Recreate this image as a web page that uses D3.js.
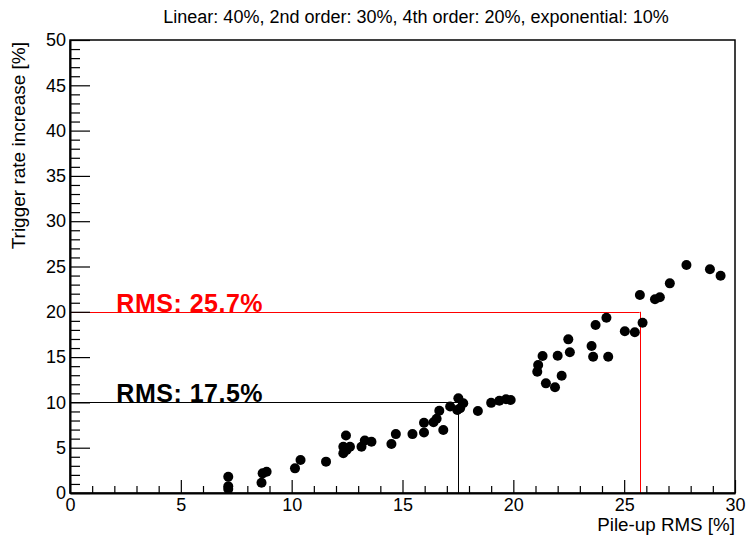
<!DOCTYPE html>
<html>
<head>
<meta charset="utf-8">
<script src="https://cdn.jsdelivr.net/npm/d3@7"></script>
<style>
  html, body { margin: 0; padding: 0; background: #fff; }
  svg { display: block; font-family: "Liberation Sans", Arial, Helvetica, sans-serif; }
</style>
</head>
<body>
<svg id="chart" width="747" height="539"></svg>
<script>
// Pile-up RMS [%] of each configuration
const pileupRms = [
  7.14, 7.14, 7.14, 8.64, 8.69, 8.87, 10.15, 10.40, 11.55,
  12.33, 12.48, 12.33, 12.63, 12.45, 13.15, 13.30, 13.60, 14.50, 14.70,
  15.45, 15.97, 15.97, 16.40, 16.54, 16.66, 16.84, 17.15, 17.52, 17.47,
  17.74, 17.60, 18.40, 19.00, 19.37, 19.67, 19.88,
  21.08, 21.12, 21.32, 21.47, 21.88, 22.00, 22.18, 22.48, 22.55,
  23.53, 23.60, 23.71, 24.20, 24.28, 25.03, 25.48, 25.83, 25.71,
  26.39, 26.61, 27.06, 27.81, 28.87, 29.35
];
// Trigger rate increase [%] for the same configurations
const rateIncrease = [
  1.80, 0.75, 0.45, 1.14, 2.17, 2.35, 2.72, 3.64, 3.46,
  4.38, 4.75, 5.10, 5.10, 6.35, 5.10, 5.80, 5.66, 5.40, 6.50,
  6.50, 6.68, 7.76, 7.80, 8.20, 9.08, 6.95, 9.55, 10.45, 9.16,
  9.90, 9.35, 9.05, 9.95, 10.19, 10.34, 10.26,
  13.39, 14.13, 15.12, 12.10, 11.67, 15.15, 12.95, 16.96, 15.53,
  16.22, 15.04, 18.54, 19.35, 15.04, 17.85, 17.75, 18.80, 21.85,
  21.38, 21.60, 23.14, 25.17, 24.69, 23.98
];

// Rate-increase thresholds and the pile-up RMS at which they are reached
const thresholdRates = [10, 20];
const thresholdRms = [17.5, 25.7];
const thresholdLabels = ["RMS: 17.5%", "RMS: 25.7%"];

const xDomain = [0, 30];
const yDomain = [0, 50];
const xTickValues = [0, 5, 10, 15, 20, 25, 30];
const yTickValues = [0, 5, 10, 15, 20, 25, 30, 35, 40, 45, 50];

const titleText = "Linear: 40%, 2nd order: 30%, 4th order: 20%, exponential: 10%";
const xTitle = "Pile-up RMS [%]";
const yTitle = "Trigger rate increase [%]";

const svg = d3.select("#chart");
const plotLeft = 70, plotRight = 735, plotTop = 40, plotBottom = 493;

const x = d3.scaleLinear().domain(xDomain).range([plotLeft, plotRight]);
const y = d3.scaleLinear().domain(yDomain).range([plotBottom, plotTop]);

// Threshold guide lines
const lineColors = ["#000000", "#ff0000"];
const textColors = ["#000000", "#ff0000"];
thresholdRates.forEach((r, i) => {
  const g = svg.append("g");
  g.append("line")
    .attr("x1", x(0)).attr("x2", x(thresholdRms[i]))
    .attr("y1", Math.round(y(r)) + 0.5).attr("y2", Math.round(y(r)) + 0.5)
    .attr("stroke", lineColors[i]).attr("stroke-width", 1);
  g.append("line")
    .attr("x1", Math.round(x(thresholdRms[i])) + 0.5).attr("x2", Math.round(x(thresholdRms[i])) + 0.5)
    .attr("y1", y(r)).attr("y2", y(0))
    .attr("stroke", lineColors[i]).attr("stroke-width", 1);
  g.append("text")
    .attr("x", x(2) + 2)
    .attr("y", y(r))
    .attr("font-size", 25)
    .attr("font-weight", "bold")
    .attr("letter-spacing", 0.5)
    .attr("fill", textColors[i])
    .text(thresholdLabels[i]);
});

// Data points
svg.append("g")
  .selectAll("circle")
  .data(d3.range(pileupRms.length))
  .join("circle")
  .attr("cx", i => x(pileupRms[i]))
  .attr("cy", i => y(rateIncrease[i]))
  .attr("r", 5)
  .attr("fill", "#000");

// Frame
svg.append("rect")
  .attr("x", plotLeft).attr("y", plotTop)
  .attr("width", plotRight - plotLeft).attr("height", plotBottom - plotTop)
  .attr("fill", "none").attr("stroke", "#000").attr("stroke-width", 1.5);

// X axis: major ticks with labels, minor ticks every unit, drawn inward
const xAxis = d3.axisBottom(x)
  .tickValues(xTickValues)
  .tickFormat(d3.format("d"))
  .tickSizeInner(-13).tickSizeOuter(0).tickPadding(5);
const gx = svg.append("g").attr("transform", `translate(0,${plotBottom})`).call(xAxis);
gx.select(".domain").attr("stroke-width", 2);
gx.selectAll(".tick line").attr("stroke-width", 1.2);
gx.selectAll(".tick text").attr("font-size", 18).attr("font-family", null).attr("fill", "#000");
const xMinor = d3.axisBottom(x).tickValues(d3.range(0, 31, 1).filter(v => v % 5 !== 0))
  .tickSizeInner(-7).tickSizeOuter(0).tickFormat("");
const gxm = svg.append("g").attr("transform", `translate(0,${plotBottom})`).call(xMinor);
gxm.select(".domain").remove();
gxm.selectAll(".tick line").attr("stroke-width", 1.2);

// Y axis
const yAxis = d3.axisLeft(y)
  .tickValues(yTickValues)
  .tickFormat(d3.format("d"))
  .tickSizeInner(-20).tickSizeOuter(0).tickPadding(4);
const gy = svg.append("g").attr("transform", `translate(${plotLeft},0)`).call(yAxis);
gy.select(".domain").attr("stroke-width", 2);
gy.selectAll(".tick line").attr("stroke-width", 1.2);
gy.selectAll(".tick text").attr("font-size", 18).attr("font-family", null).attr("fill", "#000");
const yMinor = d3.axisLeft(y).tickValues(d3.range(0, 51, 1).filter(v => v % 5 !== 0))
  .tickSizeInner(-10).tickSizeOuter(0).tickFormat("");
const gym = svg.append("g").attr("transform", `translate(${plotLeft},0)`).call(yMinor);
gym.select(".domain").remove();
gym.selectAll(".tick line").attr("stroke-width", 1.2);

// Titles
svg.append("text")
  .attr("x", 416).attr("y", 23)
  .attr("text-anchor", "middle")
  .attr("font-size", 18)
  .text(titleText);

svg.append("text")
  .attr("x", plotRight).attr("y", 531)
  .attr("text-anchor", "end")
  .attr("font-size", 18.8)
  .text(xTitle);

svg.append("text")
  .attr("transform", `translate(25,${plotTop + 2}) rotate(-90)`)
  .attr("text-anchor", "end")
  .attr("font-size", 19)
  .text(yTitle);
</script>
</body>
</html>
